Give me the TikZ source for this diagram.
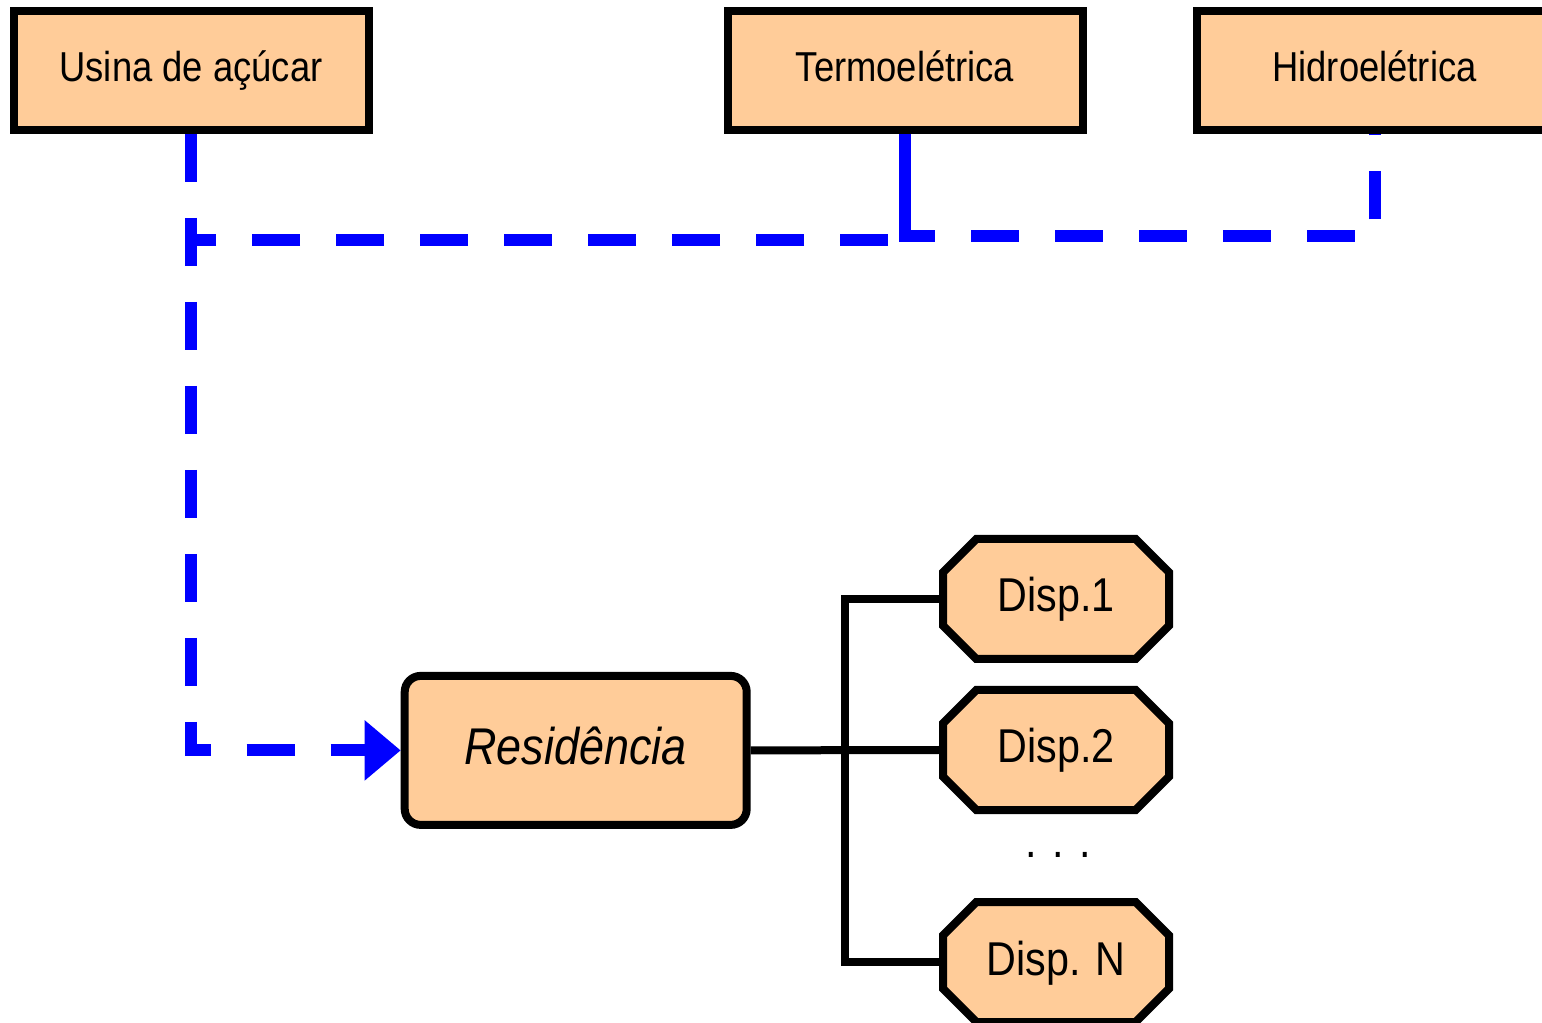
\documentclass[tikz,border=0pt]{standalone}
\usepackage{fontspec}
\setmainfont{Liberation Sans}[FakeStretch=0.87]
\usetikzlibrary{arrows.meta}
\usetikzlibrary{shapes.misc}
\definecolor{peach}{HTML}{FFCC99}
\begin{document}
\begin{tikzpicture}[plant/.style={draw,line width=0.08cm,fill=peach,minimum width=3.55cm,minimum height=1.19cm,inner sep=0pt,text height=0.30cm,text depth=0.07cm,font=\fontsize{11.9}{14}\selectfont},
  home/.style={draw,line width=0.08cm,fill=peach,rounded corners=0.16cm,minimum width=3.42cm,minimum height=1.49cm,inner sep=0pt,text height=0.37cm,text depth=0.08cm,font=\fontsize{14.7}{17}\selectfont\itshape},
  disp/.style={draw,line width=0.08cm,fill=peach,chamfered rectangle,chamfered rectangle xsep=0.36cm,minimum width=2.26cm,minimum height=1.2cm,inner sep=0pt,text height=0.34cm,text depth=0.08cm,font=\fontsize{13.5}{16}\selectfont},
  feed/.style={blue,line width=0.12cm,dash pattern=on 0.48cm off 0.36cm},
  wire/.style={black,line width=0.08cm}]
  \useasboundingbox (0,0) rectangle (15.42,-10.23);
  \node[plant] (usina) at (1.91,-0.705) {Usina de açúcar};
  \node[plant] (termo) at (9.05,-0.705) {Termoelétrica};
  \node[plant] (hidro) at (13.745,-0.705) {Hidroelétrica};

  \node[home] (res) at (5.757,-7.504) {Residência};

  \node[disp] (d1) at (10.56,-5.99) {Disp.1};
  \node[disp] (d2) at (10.56,-7.50) {Disp.2};
  \node[disp] (dn) at (10.56,-9.62) {Disp. N};
  \node[anchor=base,font=\fontsize{13.5}{16}\selectfont] (dots) at (10.58,-8.57) {. . .};

  \coordinate (bus) at (8.45,-7.50);
  \draw[wire] (res.east) -- (d2.west);
  \draw[wire] (d1.west) -| (bus) |- (dn.west);

  \draw[feed,-{Triangle[length=0.36cm,width=0.58cm]}] (usina.south) -- (usina.south |- res.west) -- (res.west);
  \draw[feed,dash phase=0.45cm] (termo.south) |- (usina.south |- 0,-2.40);
  \draw[feed] (termo.south) |- (hidro.south |- 0,-2.36) -- (hidro.south);
\end{tikzpicture}
\end{document}
